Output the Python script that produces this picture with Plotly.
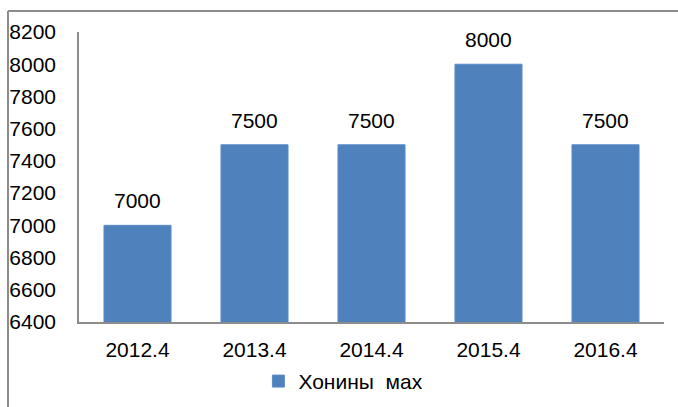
import plotly.graph_objects as go

categories = ["2012.4", "2013.4", "2014.4", "2015.4", "2016.4"]
values = [7000, 7500, 7500, 8000, 7500]
series_name = "Хонины\u00a0\u00a0мах"
y_ticks = [6400, 6600, 6800, 7000, 7200, 7400, 7600, 7800, 8000, 8200]

BAR = "#4F81BD"
FONT = "Liberation Sans, Arial, sans-serif"

fig = go.Figure()
fig.add_trace(go.Bar(
    x=categories, y=values, name=series_name,
    marker=dict(color=BAR, line=dict(color="#5B8CC8", width=1)),
    showlegend=True,
))

for i, v in enumerate(values):
    fig.add_annotation(x=i, y=v, text=str(v), showarrow=False,
                       xref="x", yref="y",
                       yanchor="bottom", yshift=11,
                       font=dict(family=FONT, size=21, color="#000000"))

fig.update_layout(
    width=678, height=407,
    margin=dict(l=79, r=14, t=32, b=85, autoexpand=False),
    paper_bgcolor="white", plot_bgcolor="white",
    bargap=0.427,
    font=dict(family=FONT, size=21, color="#000000"),
    showlegend=True,
    legend=dict(orientation="h", x=0.452, xanchor="center", y=-0.205, yanchor="middle",
                font=dict(family=FONT, size=21), itemwidth=30,
                bgcolor="rgba(0,0,0,0)"),
    yaxis=dict(range=[6400, 8200], tickvals=y_ticks, showgrid=False, showline=True,
               linecolor="#8C8C8C", linewidth=1.5, ticks="", zeroline=False,
               tickfont=dict(family=FONT, size=21), ticklabelstandoff=17),
)
fig.update_xaxes(type="category", categoryorder="array", categoryarray=categories,
                 range=[-0.5, len(categories) - 0.5],
                 showgrid=False, showline=True, linecolor="#8C8C8C", linewidth=2,
                 ticks="", tickfont=dict(family=FONT, size=21), ticklabelstandoff=8,
                 zeroline=False)

# chart-area border (top and left edges visible)
fig.add_shape(type="line", xref="paper", yref="paper",
              x0=(8 - 79) / 585, x1=1.05, y0=(322 - 11) / 290, y1=(322 - 11) / 290,
              line=dict(color="#8C8C8C", width=2))
fig.add_shape(type="line", xref="paper", yref="paper",
              x0=(8 - 79) / 585, x1=(8 - 79) / 585, y0=(322 - 11) / 290, y1=-0.35,
              line=dict(color="#8C8C8C", width=2))

fig.write_html("out.html",
               config={"displayModeBar": False},
               post_script="document.body.style.margin='0';document.body.style.padding='0';"
                           "document.body.style.overflow='hidden';")
